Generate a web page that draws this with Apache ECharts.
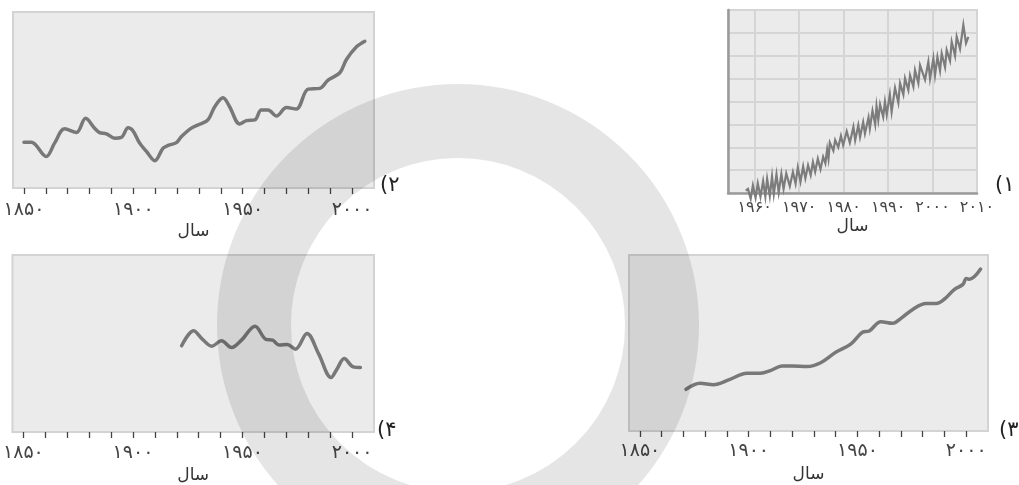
<!DOCTYPE html>
<html>
<head>
<meta charset="utf-8">
<script src="https://cdn.jsdelivr.net/npm/echarts@6.0.0/dist/echarts.min.js"></script>
<style>
  html, body { margin: 0; padding: 0; background: #fff; }
  #chart { width: 1019px; height: 485px; }
</style>
</head>
<body>
<div id="chart"></div>
<script>
// panel 1: CO2-like curve (years, values on a 0..8 grid)
const p1Years = [1958.0, 1958.5, 1959.1, 1959.6, 1960.2, 1960.7, 1961.3, 1961.9, 1962.4, 1962.8,
  1963.4, 1963.9, 1964.3, 1964.9, 1965.4, 1966.0, 1966.5, 1967.1, 1967.9, 1968.6,
  1969.2, 1969.7, 1970.3, 1970.9, 1971.4, 1972.0, 1972.6, 1973.1, 1973.6, 1974.2,
  1974.8, 1975.4, 1975.9, 1976.3, 1976.6, 1976.9, 1977.7, 1978.1, 1978.8, 1979.4,
  1979.9, 1980.7, 1981.4, 1982.2, 1982.6, 1983.3, 1983.7, 1984.4, 1984.8, 1985.6,
  1985.9, 1986.5, 1987.1, 1987.4, 1987.8, 1988.2, 1988.9, 1989.3, 1989.7, 1990.4,
  1990.8, 1991.56, 1992.31, 1992.69, 1993.44, 1993.81, 1994.56, 1994.94, 1995.69, 1996.06,
  1996.81, 1997.19, 1998.31, 1999.06, 1999.44, 2000.19, 2000.56, 2001.1, 2001.68, 2002.06,
  2002.81, 2003.18, 2003.93, 2004.31, 2005.06, 2005.43, 2006.18, 2006.93, 2007.53, 2008.06];
const p1Values = [0.1, 0.18, -0.25, 0.33, -0.21, 0.42, -0.16, 0.52, -0.15, 0.62,
  -0.13, 0.72, -0.04, 0.81, 0.03, 0.83, 0.18, 0.85, 0.3, 0.92,
  0.41, 1.11, 0.5, 1.16, 0.64, 1.21, 0.78, 1.35, 0.93, 1.5,
  1.04, 1.58, 1.3, 1.9, 1.5, 2.2, 1.85, 2.31, 2.0, 2.5,
  2.09, 2.7, 2.2, 2.89, 2.31, 2.96, 2.45, 3.1, 2.6, 3.3,
  2.82, 3.6, 3.0, 3.8, 3.2, 3.87, 3.33, 3.99, 3.43, 4.31,
  3.55, 4.6, 3.95, 4.8, 4.3, 5.01, 4.5, 5.15, 4.65, 5.37,
  4.8, 5.59, 4.95, 5.74, 5.0, 5.88, 5.15, 5.95, 5.35, 6.1,
  5.5, 6.25, 5.78, 6.61, 6.0, 6.83, 6.3, 7.34, 6.55, 6.83];
const p1LabelYears = [1960, 1970, 1980, 1990, 2000, 2010];

// panel 2
const p2Years = [1850, 1853.4, 1860.2, 1864, 1868.6, 1874, 1878.2, 1882.3, 1884.6, 1887.7,
  1891.5, 1894.5, 1897.6, 1899.8, 1902.9, 1906, 1909.8, 1913.6, 1915.9, 1919.7,
  1922, 1926.5, 1930.3, 1934.1, 1937.2, 1941, 1944, 1948.6, 1951.7, 1955.5,
  1958.5, 1961.6, 1965.4, 1970, 1974.5, 1979.9, 1985.2, 1989, 1994.4, 1997.4,
  2002, 2005.8];
const p2Values = [26, 26, 17.9, 25.5, 33.6, 31.5, 39.6, 34, 31.5, 30.8,
  28.3, 28.7, 34.2, 32.5, 25.5, 20.8, 15.5, 22.6, 24.2, 25.8,
  29.2, 34, 36.2, 38.7, 46.2, 51.3, 46.2, 36.4, 38.3, 38.7,
  44.3, 44.3, 40.9, 45.7, 44.9, 56.2, 56.6, 61.3, 65.5, 73,
  80.2, 83.4];

// panel 3
const p3Years = [1871.2, 1877.7, 1883.8, 1890.8, 1899.2, 1905.4, 1910, 1915.4, 1920, 1926.9,
  1933.1, 1940, 1946.9, 1952.3, 1955.4, 1960.8, 1966.2, 1970, 1975.4, 1981.5,
  1986.2, 1990, 1994.6, 1998.5, 2000, 2001.5, 2006.6];
const p3Values = [23.7, 27.1, 26.3, 29, 32.8, 32.8, 34.3, 36.9, 36.9, 36.6,
  38.8, 44.7, 49.4, 56.1, 56.8, 62.1, 61.2, 64, 69.1, 72.5,
  72.5, 75, 80.5, 83.3, 86.7, 86.2, 92];

// panel 4
const p4Years = [1922.2, 1927.7, 1931.4, 1936, 1940.4, 1945, 1949.5, 1955.7, 1960.7, 1963.7,
  1966.7, 1970.4, 1974.2, 1979.4, 1984.7, 1990.4, 1993.2, 1996.4, 2000.5, 2003.8];
const p4Values = [48.7, 57.2, 52.8, 48.5, 51.5, 47.7, 51.9, 59.8, 52.3, 51.9,
  49.1, 49.4, 46.8, 55.7, 44.3, 30.8, 35.8, 41.5, 36.8, 36.4];

const tickYears = [1850, 1860, 1870, 1880, 1890, 1900, 1910, 1920, 1930, 1940,
  1950, 1960, 1970, 1980, 1990, 2000];
const labelYears = [1850, 1900, 1950, 2000];
const axisTitle = "سال";
const panelNames = ["(۱", "(۲", "(۳", "(۴"];

const FONT = '"DejaVu Sans", sans-serif';
const toFa = (v) => String(v).replace(/\d/g, (d) => "۰۱۲۳۴۵۶۷۸۹"[d]);
const zip = (xs, ys) => xs.map((x, i) => [x, ys[i]]);

// faint ring of the background logo, drawn on an offscreen canvas
const makeWatermark = () => {
  const c = document.createElement("canvas");
  c.width = 1019;
  c.height = 485;
  const ctx = c.getContext("2d");
  ctx.strokeStyle = "rgba(0,0,0,0.1)";
  ctx.lineWidth = 74;
  ctx.beginPath();
  ctx.arc(458, 325, 204, 0, Math.PI * 2);
  ctx.stroke();
  return c;
};

const chart = echarts.init(document.getElementById("chart"), null, { renderer: "canvas" });

const boxGrid = (left, top, width, height) => ({
  left, top, width, height,
  show: true,
  backgroundColor: "#ebebec",
  borderColor: "#d3d3d3",
  borderWidth: 2,
  containLabel: false,
});

const yearAxis = (gridIndex, margin, nameGap) => ({
  type: "value",
  gridIndex,
  min: 1845,
  max: 2010,
  name: axisTitle,
  nameLocation: "middle",
  nameGap,
  nameTextStyle: { fontFamily: FONT, fontSize: 17, color: "#333" },
  axisLine: { show: true, lineStyle: { color: "#d3d3d3", width: 2 } },
  axisTick: {
    show: true,
    customValues: tickYears,
    length: 6,
    lineStyle: { color: "#444", width: 1.3 },
  },
  axisLabel: {
    customValues: labelYears,
    margin,
    fontFamily: FONT,
    fontSize: 19,
    color: "#444",
    formatter: (v) => toFa(v),
  },
  splitLine: { show: false },
});

const hiddenY = (gridIndex) => ({
  type: "value",
  gridIndex,
  min: 0,
  max: 100,
  show: false,
});

const smoothLine = (idx, data) => ({
  type: "line",
  xAxisIndex: idx,
  yAxisIndex: idx,
  data,
  smooth: 0.35,
  showSymbol: false,
  clip: false,
  lineStyle: { color: "#787878", width: 3.5, cap: "round", join: "round" },
});

const labelText = (text, left, top) => ({
  type: "text",
  left,
  top,
  z: 50,
  style: { text, font: "21px " + FONT, fill: "#222" },
});

const option = {
  animation: false,
  backgroundColor: "#fff",
  grid: [
    boxGrid(13, 12, 361, 176),   // panel 2
    boxGrid(728, 10, 249, 183),  // panel 1
    boxGrid(8, 255, 366, 177),   // panel 4
    boxGrid(629, 255, 359, 176), // panel 3
  ],
  xAxis: [
    yearAxis(0, 13, 35),
    {
      type: "value",
      gridIndex: 1,
      min: 1954,
      max: 2010,
      name: axisTitle,
      nameLocation: "middle",
      nameGap: 25,
      nameTextStyle: { fontFamily: FONT, fontSize: 17, color: "#333" },
      axisLine: { show: true, lineStyle: { color: "#9a9a9a", width: 2.5 } },
      axisTick: { show: false, customValues: p1LabelYears },
      axisLabel: {
        customValues: p1LabelYears,
        margin: 7,
        fontFamily: FONT,
        fontSize: 16,
        color: "#444",
        formatter: (v) => toFa(v),
      },
      splitLine: { show: true, lineStyle: { color: "#d5d5d5", width: 2 } },
    },
    yearAxis(2, 12, 35),
    yearAxis(3, 11, 35),
  ],
  yAxis: [
    hiddenY(0),
    {
      type: "value",
      gridIndex: 1,
      min: 0,
      max: 8,
      interval: 1,
      axisLine: { show: true, lineStyle: { color: "#9a9a9a", width: 2.5 } },
      axisTick: { show: false },
      axisLabel: { show: false },
      splitLine: { show: true, lineStyle: { color: "#d5d5d5", width: 2 } },
    },
    hiddenY(2),
    hiddenY(3),
  ],
  series: [
    smoothLine(0, zip(p2Years, p2Values)),
    {
      type: "line",
      xAxisIndex: 1,
      yAxisIndex: 1,
      data: zip(p1Years, p1Values),
      showSymbol: false,
      clip: false,
      lineStyle: { color: "#7c7c7c", width: 2.2, join: "miter" },
    },
    smoothLine(2, zip(p4Years, p4Values)),
    smoothLine(3, zip(p3Years, p3Values)),
  ],
  graphic: [
    labelText(panelNames[0], 995, 175),
    labelText(panelNames[1], 380, 175),
    labelText(panelNames[2], 999, 420),
    labelText(panelNames[3], 377, 420),
    {
      type: "image",
      left: 0,
      top: 0,
      z: 100,
      silent: true,
      style: { image: makeWatermark(), width: 1019, height: 485 },
    },
  ],
};

chart.setOption(option);
</script>
</body>
</html>
